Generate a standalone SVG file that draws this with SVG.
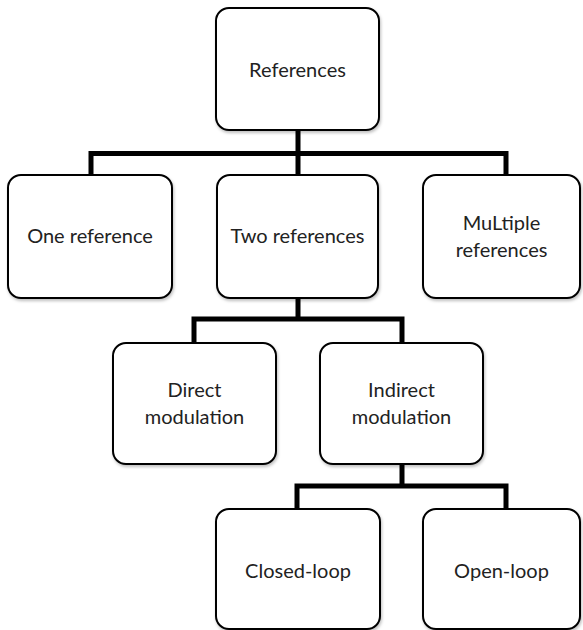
<svg xmlns="http://www.w3.org/2000/svg" width="583" height="630" viewBox="0 0 583 630">
<defs>
<filter id="sh" x="-10%" y="-10%" width="130%" height="130%">
<feDropShadow dx="1" dy="2" stdDeviation="1.5" flood-color="#000" flood-opacity="0.25"/>
</filter>
</defs>
<style>
.box{fill:#fff;stroke:#000;stroke-width:2;filter:url(#sh)}
.t{font-family:Lato,"Open Sans",sans-serif;font-size:20px;fill:#222;text-anchor:middle}
.c{fill:none;stroke:#000;stroke-width:5;stroke-linejoin:miter}
</style>
<rect width="583" height="630" fill="#fff"/>
<g id="connectors">
<path class="c" d="M298 130 V175 M91 175 V153.5 H506 V175"/>
<path class="c" d="M298 298 V319 M194 343 V319 H402 V343"/>
<path class="c" d="M402 464 V486 M297 510 V486 H506 V510"/>
</g>
<g id="n-references"><rect class="box" x="216" y="8" width="163" height="122" rx="13"/><text class="t" x="297.5" y="77">References</text></g>
<g id="n-one"><rect class="box" x="8" y="175" width="164" height="123" rx="13"/><text class="t" x="90" y="243">One reference</text></g>
<g id="n-two"><rect class="box" x="217" y="175" width="161" height="123" rx="13"/><text class="t" x="297.5" y="243">Two references</text></g>
<g id="n-multiple"><rect class="box" x="423" y="175" width="157" height="123" rx="13"/><text class="t" x="501.5" y="230">MuLtiple</text><text class="t" x="501.5" y="257">references</text></g>
<g id="n-direct"><rect class="box" x="113" y="343" width="163" height="121" rx="13"/><text class="t" x="194.5" y="397">Direct</text><text class="t" x="194.5" y="424">modulation</text></g>
<g id="n-indirect"><rect class="box" x="320" y="343" width="163" height="121" rx="13"/><text class="t" x="401.5" y="397">Indirect</text><text class="t" x="401.5" y="424">modulation</text></g>
<g id="n-closed"><rect class="box" x="216" y="509" width="164" height="120" rx="13"/><text class="t" x="298" y="578">Closed-loop</text></g>
<g id="n-open"><rect class="box" x="423" y="509" width="157" height="120" rx="13"/><text class="t" x="501.5" y="578">Open-loop</text></g>
</svg>
